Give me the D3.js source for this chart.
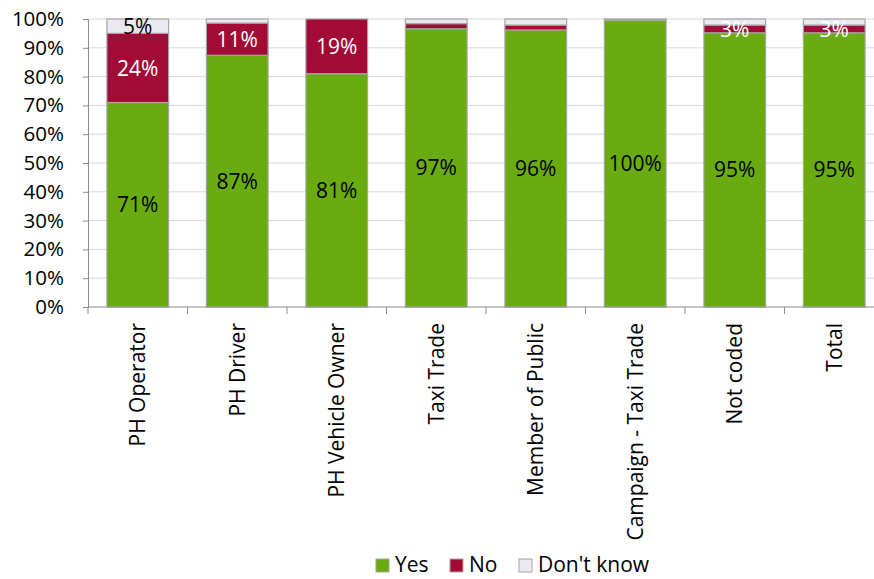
<!DOCTYPE html>
<html>
<head>
<meta charset="utf-8">
<script src="https://cdn.jsdelivr.net/npm/d3@7"></script>
<style>
  body { margin:0; background:#fff; }
  text { font-family: "Open Sans", sans-serif; }
</style>
</head>
<body>
<div id="chart"></div>
<script>
const categories = ["PH Operator","PH Driver","PH Vehicle Owner","Taxi Trade","Member of Public","Campaign - Taxi Trade","Not coded","Total"]
const yes = [71, 87.4, 81, 96.6, 96.2, 99.5, 95.2, 95.2]
const no = [24, 11.2, 19, 1.8, 1.7, 0.2, 2.7, 2.7]
const dontKnow = [5, 1.4, 0, 1.6, 2.1, 0.3, 2.1, 2.1]
const seriesNames = ["Yes","No","Don't know"]
const colors = ["#6aab12","#a10b35","#e9e9ef"]
const labelColors = ["#000","#fff","#000"]
const yTicks = [0,10,20,30,40,50,60,70,80,90,100]

const width = 874, height = 579
const margin = {top:19, left:88, bottom:272, right:-10}
const plotW = width - margin.left - margin.right
const plotH = height - margin.top - margin.bottom
const fs = 21

const rows = categories.map((c,i) => ({cat:c, "Yes":yes[i], "No":no[i], "Don't know":dontKnow[i]}))
const stacked = d3.stack().keys(seriesNames)(rows)

const svg = d3.select("#chart").append("svg").attr("width",width).attr("height",height)
const g = svg.append("g").attr("transform",`translate(${margin.left},${margin.top})`)

const x = d3.scaleBand().domain(categories).range([0,plotW]).paddingInner(0.38).paddingOuter(0.19)
const y = d3.scaleLinear().domain([0,100]).range([plotH,0])

// gridlines
g.append("g").selectAll("line").data(yTicks.slice(1)).enter().append("line")
  .attr("x1",0).attr("x2",width-margin.left)
  .attr("y1",d=>y(d)).attr("y2",d=>y(d))
  .attr("stroke","#d9d9d9").attr("stroke-width",1)

// bars
const layer = g.selectAll(".layer").data(stacked).enter().append("g")
  .attr("fill",(d,i)=>colors[i])
layer.selectAll("rect").data(d=>d).enter().append("rect")
  .attr("x",d=>x(d.data.cat))
  .attr("width",x.bandwidth())
  .attr("y",d=>y(d[1]))
  .attr("height",d=>y(d[0])-y(d[1]))
  .attr("stroke","#a6a6a6").attr("stroke-width",1.2)

// labels
stacked.forEach((s,si)=>{
  g.append("g").selectAll("text").data(s.filter(d=>(d[1]-d[0])>=2.5)).enter().append("text")
    .attr("x",d=>x(d.data.cat)+x.bandwidth()/2)
    .attr("y",d=>(y(d[0])+y(d[1]))/2)
    .attr("dy","0.36em")
    .attr("text-anchor","middle")
    .attr("font-size",fs)
    .attr("fill",labelColors[si])
    .text(d=>Math.round(d[1]-d[0])+"%")
})

// y axis
const yAxis = d3.axisLeft(y).tickValues(yTicks).tickFormat(d=>d+"%").tickSize(5).tickPadding(19)
const yG = g.append("g").call(yAxis)
yG.selectAll("line,path").attr("stroke","#8c8c8c")
yG.selectAll("line").attr("x1",0).attr("x2",-5)
yG.selectAll("text").attr("x",-24).attr("font-size",20.5).attr("fill","#000").style("font-family","'Open Sans', sans-serif")

// x axis
const step = x.step()
const xG = g.append("g").attr("transform",`translate(0,${plotH})`)
xG.append("line").attr("x1",0).attr("x2",width-margin.left).attr("stroke","#8c8c8c")
xG.selectAll(".tk").data(d3.range(categories.length+1)).enter().append("line")
  .attr("x1",i=>i*step).attr("x2",i=>i*step).attr("y1",0).attr("y2",7)
  .attr("stroke","#8c8c8c")
xG.selectAll(".lbl").data(categories).enter().append("text")
  .attr("transform",d=>`translate(${x(d)+x.bandwidth()/2},16) rotate(-90)`)
  .attr("text-anchor","end").attr("dy","0.35em")
  .attr("font-size",fs).attr("fill","#000")
  .text(d=>d)

// legend
const legendX = [376, 450, 519]
const legend = svg.append("g").attr("transform","translate(0,565)")
seriesNames.forEach((n,i)=>{
  legend.append("rect").attr("x",legendX[i]).attr("y",-6).attr("width",13).attr("height",13)
    .attr("fill",colors[i]).attr("stroke","#a6a6a6").attr("stroke-width",1)
  legend.append("text").attr("x",legendX[i]+19).attr("y",0).attr("dy","0.35em")
    .attr("font-size",fs).attr("fill","#000").text(n)
})
</script>
</body>
</html>
